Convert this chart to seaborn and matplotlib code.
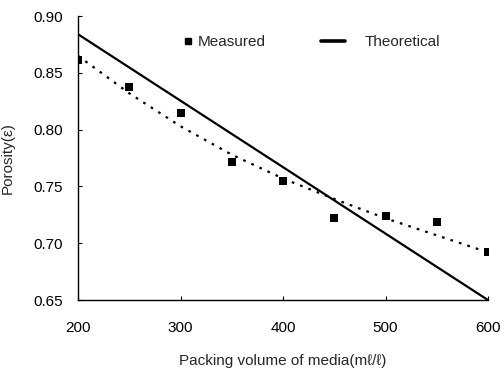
import matplotlib
matplotlib.use("Agg")
import matplotlib.pyplot as plt
from matplotlib.lines import Line2D
import seaborn as sns
import pandas as pd

# Packing volume of media (mL/L)
volume = [200, 250, 300, 350, 400, 450, 500, 550, 600]
# Measured porosity
measured = [0.861, 0.838, 0.815, 0.772, 0.755, 0.722, 0.724, 0.719, 0.692]
# Fitted trend through the measured points
fit_volume = [200, 250, 300, 350, 400, 450, 500, 550, 600]
fit_porosity = [0.865, 0.832, 0.803, 0.778, 0.757, 0.739, 0.722, 0.707, 0.692]
# Theoretical porosity (straight line)
theory_volume = [200, 600]
theory_porosity = [0.884, 0.650]

sns.set_style("ticks")
plt.rcParams["font.family"] = ["Liberation Sans", "DejaVu Sans"]
FS = 11

fig = plt.figure(figsize=(5.01, 3.76), dpi=100)
ax = fig.add_axes([0.156, 0.202, 0.818, 0.755])

df_m = pd.DataFrame({"v": volume, "p": measured})
df_f = pd.DataFrame({"v": fit_volume, "p": fit_porosity})
df_t = pd.DataFrame({"v": theory_volume, "p": theory_porosity})

sns.lineplot(data=df_f, x="v", y="p", ax=ax, color="black", linestyle=(0, (1.2, 2.8)),
             linewidth=1.6, legend=False)
sns.lineplot(data=df_t, x="v", y="p", ax=ax, color="black", linewidth=1.6, legend=False)
sns.scatterplot(data=df_m, x="v", y="p", ax=ax, marker="s", s=40, color="black",
                edgecolor="black", linewidth=0, legend=False, zorder=5)

ax.set_xlim(200, 600)
ax.set_ylim(0.65, 0.90)
ax.set_xticks([200, 300, 400, 500, 600])
ax.set_yticks([0.65, 0.70, 0.75, 0.80, 0.85, 0.90])
ax.set_yticklabels([f"{t:.2f}" for t in ax.get_yticks()])
ax.tick_params(direction="in", length=3, width=0.8, labelsize=FS, colors="black")
ax.tick_params(axis="x", pad=15)
ax.tick_params(axis="y", pad=11)
for s in ["top", "right"]:
    ax.spines[s].set_visible(False)
for s in ["left", "bottom"]:
    ax.spines[s].set_linewidth(1.0)
    ax.spines[s].set_color("black")

ax.set_xlabel("Packing volume of media(mℓ/ℓ)", fontsize=FS, labelpad=14)
ax.set_ylabel("Porosity(ε)", fontsize=FS, labelpad=13)

# Two legend entries placed side by side along the top
h_meas = Line2D([], [], marker="s", linestyle="none", color="black", markersize=5)
h_theo = Line2D([], [], color="black", linewidth=2.6)
leg1 = ax.legend([h_meas], ["Measured"], frameon=False, loc="center left",
                 bbox_to_anchor=(0.25, 0.908), fontsize=FS, borderpad=0,
                 borderaxespad=0, handlelength=1.0, handletextpad=0.15)
ax.add_artist(leg1)
ax.legend([h_theo], ["Theoretical"], frameon=False, loc="center left",
          bbox_to_anchor=(0.593, 0.908), fontsize=FS, borderpad=0,
          borderaxespad=0, handlelength=1.57, handletextpad=1.3)

fig.savefig("out.png", dpi=100)
